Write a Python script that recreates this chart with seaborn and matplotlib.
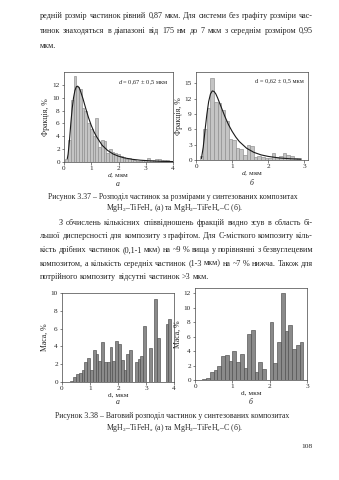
import numpy as np
import pandas as pd
import matplotlib
matplotlib.use("Agg")
import matplotlib.pyplot as plt
import seaborn as sns

# ---------------- data ----------------
# Fig 3.37 a: number fraction (%) per 0.1-um bin, MgH2-TiFeHx
frac_a_left = [0.05, 0.15, 0.25, 0.35, 0.45, 0.55, 0.65, 0.75, 0.85, 0.95,
               1.05, 1.15, 1.25, 1.35, 1.45, 1.55, 1.65, 1.75, 1.85, 1.95,
               2.05, 2.15, 2.25, 2.35, 2.45, 2.55, 2.65, 2.75, 2.85, 2.95,
               3.05, 3.15, 3.25, 3.35, 3.45, 3.55, 3.65, 3.75, 3.85]
frac_a_vals = [0.4, 3.4, 9.6, 13.4, 11.6, 11.3, 8.4, 7.9, 6.1, 5.2,
               4.0, 6.9, 2.4, 3.5, 3.3, 1.4, 2.1, 1.6, 1.4, 1.2,
               0.9, 0.7, 0.5, 0.6, 0.5, 0.3, 0.2, 0.2, 0.3, 0.3,
               0.6, 0.3, 0.3, 0.4, 0.5, 0.3, 0.3, 0.3, 0.2]
fit_a_x = [0.12, 0.15, 0.2, 0.25, 0.3, 0.35, 0.4, 0.45, 0.5, 0.55, 0.6, 0.7, 0.8,
           0.9, 1.0, 1.1, 1.2, 1.4, 1.6, 1.8, 2.0, 2.2, 2.5, 2.8, 3.2, 3.6, 4.0]
fit_a_y = [0.5, 1.2, 3.3, 6.0, 8.3, 10.0, 11.1, 11.7, 11.8, 11.6, 11.1, 9.8, 8.3,
           6.9, 5.7, 4.7, 3.9, 2.6, 1.8, 1.25, 0.9, 0.65, 0.42, 0.28, 0.17, 0.1, 0.07]

# Fig 3.37 b: MgH2-TiFeHx-C
frac_b_left = [0.1, 0.2, 0.3, 0.4, 0.5, 0.6, 0.7, 0.8, 0.9, 1.0,
               1.1, 1.2, 1.3, 1.4, 1.5, 1.6, 1.7, 1.8, 1.9, 2.0,
               2.1, 2.2, 2.3, 2.4, 2.5, 2.6, 2.7, 2.8]
frac_b_vals = [0.8, 6.1, 10.2, 16.0, 11.3, 11.2, 9.8, 7.6, 4.2, 4.0,
               2.3, 2.2, 1.0, 3.0, 2.7, 0.6, 0.8, 0.5, 0.4, 0.3,
               1.4, 0.5, 0.8, 1.3, 0.9, 0.8, 0.4, 0.3]
fit_b_x = [0.15, 0.2, 0.25, 0.3, 0.35, 0.4, 0.45, 0.5, 0.55, 0.6, 0.7, 0.8,
           0.9, 1.0, 1.1, 1.2, 1.4, 1.6, 1.8, 2.0, 2.3, 2.6, 2.9]
fit_b_y = [0.3, 2.5, 5.8, 8.9, 11.4, 12.9, 13.5, 13.4, 12.9, 12.1, 10.3, 8.5,
           6.9, 5.6, 4.5, 3.6, 2.3, 1.5, 1.0, 0.7, 0.4, 0.25, 0.15]

# Fig 3.38 a: mass fraction (%)
mass_a_left = [0.3, 0.4, 0.5, 0.6, 0.7, 0.8, 0.9, 1.0, 1.1, 1.2,
               1.3, 1.4, 1.5, 1.6, 1.7, 1.8, 1.9, 2.0, 2.1, 2.2,
               2.3, 2.4, 2.5, 2.6, 2.7, 2.8, 2.9, 3.0, 3.1, 3.2,
               3.3, 3.4, 3.5, 3.6, 3.7, 3.8]
mass_a_vals = [0.1, 0.6, 0.9, 1.0, 1.3, 2.3, 2.7, 1.3, 3.6, 3.2,
               2.4, 4.5, 2.3, 2.2, 3.9, 2.4, 4.6, 4.3, 2.5, 1.4,
               3.2, 3.6, 0.0, 2.3, 2.6, 2.9, 6.3, 0.0, 3.8, 0.0,
               9.3, 5.0, 0.0, 0.0, 6.5, 7.1]

# Fig 3.38 b
mass_b_left = [0.2, 0.3, 0.4, 0.5, 0.6, 0.7, 0.8, 0.9, 1.0, 1.1,
               1.2, 1.3, 1.4, 1.5, 1.6, 1.7, 1.8, 1.9, 2.0, 2.1,
               2.2, 2.3, 2.4, 2.5, 2.6, 2.7, 2.8]
mass_b_vals = [0.1, 0.3, 1.1, 1.4, 1.9, 3.3, 3.4, 2.6, 4.0, 2.5,
               3.6, 1.7, 6.3, 6.9, 1.1, 2.5, 1.5, 0.0, 8.0, 2.3,
               5.2, 12.0, 6.8, 7.6, 4.3, 4.8, 5.3]

BIN = 0.1

# ---------------- figure ----------------
sns.set_style("ticks")
FONT = "Liberation Serif"
plt.rcParams["font.family"] = [FONT, "DejaVu Serif"]
plt.rcParams["mathtext.fontset"] = "custom"
plt.rcParams["mathtext.rm"] = FONT
plt.rcParams["mathtext.it"] = FONT + ":italic"

W, H = 339, 480
fig = plt.figure(figsize=(W / 100, H / 100), dpi=100)
fig.patch.set_facecolor("white")
renderer = fig.canvas.get_renderer()

BODY = 5.85
CAP = 5.55


def px_axes(x0, y0, x1, y1):
    return fig.add_axes([x0 / W, 1 - y1 / H, (x1 - x0) / W, (y1 - y0) / H])


def put_line(text, y, x0, x1, size=BODY, justify=True):
    words = text.split(" ")
    arts = [fig.text(0, 0, w, fontsize=size, va="center", ha="left") for w in words]
    widths = [a.get_window_extent(renderer).width for a in arts]
    sp = size * 0.25 * 100 / 72
    total = sum(widths)
    if total + sp * 0.85 * (len(words) - 1) > (x1 - x0):
        scale = (x1 - x0) / (total + sp * 0.85 * (len(words) - 1))
        for a in arts:
            a.set_fontsize(size * scale)
        widths = [w * scale for w in widths]
        total = sum(widths)
        sp *= scale
    if justify and len(words) > 1:
        gap = (x1 - x0 - total) / (len(words) - 1)
    else:
        gap = sp
    x = x0
    for a, w in zip(arts, widths):
        a.set_position((x / W, 1 - y / H))
        x += w + gap


def centered(text, x, y, size=CAP, **kw):
    fig.text(x / W, 1 - y / H, text, fontsize=size, ha="center", va="center", **kw)


def hist(ax, left, vals, face, edge):
    df = pd.DataFrame({"d": np.asarray(left, dtype=float) + BIN / 2,
                       "w": np.asarray(vals, dtype=float)})
    edges = list(np.asarray(left, dtype=float)) + [left[-1] + BIN]
    sns.histplot(data=df, x="d", weights="w", bins=edges, ax=ax, color=face,
                 edgecolor=edge, linewidth=0.45, alpha=1.0, stat="count")


def style(ax, xlim, ylim, xt, yt, ylabel, xlabel, note=None):
    ax.set_xlim(*xlim)
    ax.set_ylim(*ylim)
    ax.set_xticks(xt)
    ax.set_yticks(yt)
    ax.tick_params(labelsize=5.2, length=1.8, width=0.4, pad=1.2, direction="out")
    for s in ax.spines.values():
        s.set_linewidth(0.5)
        s.set_color("#444444")
        s.set_visible(True)
    ax.set_ylabel(ylabel, fontsize=5.6, labelpad=1.5)
    ax.set_xlabel(xlabel, fontsize=5.3, labelpad=0.5)
    if note:
        ax.text(0.96, 0.93, note, transform=ax.transAxes, ha="right", va="top",
                fontsize=4.6)


# ---- top text ----
put_line("редній розмір частинок рівний 0,87 мкм. Для системи без графіту розміри час-",
         16, 40, 313)
put_line("тинок знаходяться в діапазоні від 175 нм до 7 мкм з середнім розміром 0,95",
         31, 40, 313)
put_line("мкм.", 45.5, 40, 313, justify=False)

# ---- Fig 3.37 ----
ax1 = px_axes(64, 72, 173, 162)
hist(ax1, frac_a_left, frac_a_vals, "#c4c4c4", "#8c8c8c")
sns.lineplot(x=fit_a_x, y=fit_a_y, ax=ax1, color="#1a1a1a", linewidth=0.8)
style(ax1, (0, 4), (0, 14), [0, 1, 2, 3, 4], [0, 2, 4, 6, 8, 10, 12],
      "Фракція, %", r"$\it{d}$, мкм", r"$\it{d}$ = 0,67 ± 0,5 мкм")

ax2 = px_axes(196, 72, 308, 160)
hist(ax2, frac_b_left, frac_b_vals, "#c4c4c4", "#8c8c8c")
sns.lineplot(x=fit_b_x, y=fit_b_y, ax=ax2, color="#1a1a1a", linewidth=0.8)
style(ax2, (0, 3.1), (0, 17.2), [0, 1, 2, 3], [0, 3, 6, 9, 12, 15],
      "Фракція, %", r"$\it{d}$, мкм", "d = 0,62 ± 0,5 мкм")

centered("а", 118, 184, size=5.6, style="italic")
centered("б", 252, 183, size=5.6, style="italic")
centered("Рисунок 3.37 – Розподіл частинок за розмірами у синтезованих композитах",
         173, 197)
centered(r"MgH$_2$–TiFeH$_x$ (а) та MgH$_2$–TiFeH$_x$–C (б).", 175, 208.5)

# ---- paragraph ----
put_line("З обчислень кількісних співвідношень фракцій видно зсув в область бі-",
         223, 59, 313)
put_line("льшої дисперсності для композиту з графітом. Для С-місткого композиту кіль-",
         236.5, 40, 313)
put_line("кість дрібних частинок (0,1-1 мкм) на ~9 % вища у порівнянні з безвуглецевим",
         250, 40, 313)
put_line("композитом, а кількість середніх частинок (1-3 мкм) на ~7 % нижча. Також для",
         263.5, 40, 313)
put_line("потрійного композиту відсутні частинок >3 мкм.", 277, 40, 313, justify=False)

# ---- Fig 3.38 ----
ax3 = px_axes(62, 293, 174, 382)
hist(ax3, mass_a_left, mass_a_vals, "#8a8a8a", "#4d4d4d")
style(ax3, (0, 4), (0, 10), [0, 1, 2, 3, 4], [0, 2, 4, 6, 8, 10],
      "Маса, %", "d, мкм")

ax4 = px_axes(195, 288, 307, 380)
hist(ax4, mass_b_left, mass_b_vals, "#8a8a8a", "#4d4d4d")
style(ax4, (0, 3), (0, 12.7), [0, 1, 2, 3], [0, 2, 4, 6, 8, 10, 12],
      "Маса, %", "d, мкм")

centered("а", 118, 402, size=5.6, style="italic")
centered("б", 251, 402, size=5.6, style="italic")
centered("Рисунок 3.38 – Ваговий розподіл частинок у синтезованих композитах",
         172, 416)
centered(r"MgH$_2$–TiFeH$_x$ (а) та MgH$_2$–TiFeH$_x$–C (б).", 175, 428)

fig.text(313 / W, 1 - 447 / H, "108", fontsize=5.4, ha="right", va="center")

fig.savefig("out.png", dpi=100, facecolor="white")
